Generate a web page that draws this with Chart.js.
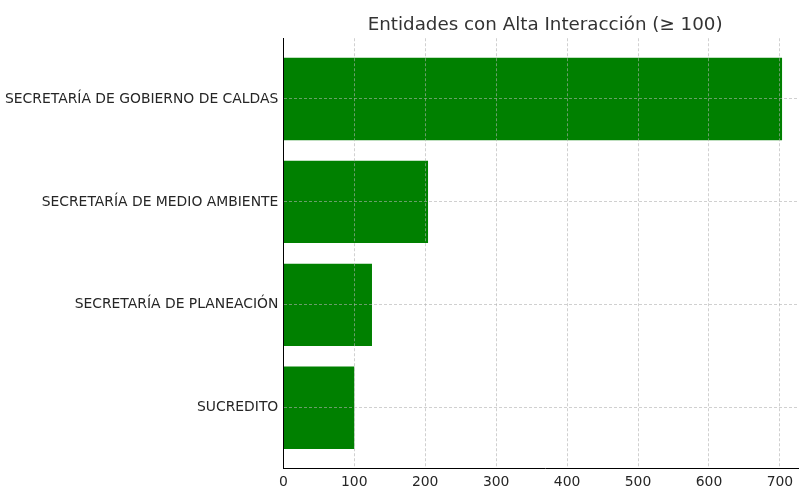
<!DOCTYPE html>
<html><head><meta charset="utf-8">
<script src="https://cdn.jsdelivr.net/npm/chart.js@4/dist/chart.umd.min.js"></script>
<style>html,body{margin:0;padding:0;background:#fff;overflow:hidden}#wrap{width:807px;height:486px;position:relative}</style>
</head><body><div id="wrap"><canvas id="c"></canvas></div>
<script>
const titleText = 'Entidades con Alta Interacción (≥ 100)';
const categories = ['SECRETARÍA DE GOBIERNO DE CALDAS', 'SECRETARÍA DE MEDIO AMBIENTE', 'SECRETARÍA DE PLANEACIÓN', 'SUCREDITO'];
const values = [703, 204, 125, 100];
const xTickStep = 100;

const FONT = 'DejaVu Sans';
const gridGrey = 'rgba(176,176,176,0.75)';
const textCol = '#262626';

const points = categories.map((c, i) => ({ x: values[i], y: i }));

new Chart(document.getElementById('c'), {
  type: 'bar',
  data: {
    datasets: [{
      data: points,
      backgroundColor: '#008000',
      borderWidth: 0,
      categoryPercentage: 1,
      barPercentage: 0.8
    }]
  },
  options: {
    indexAxis: 'y',
    responsive: true,
    maintainAspectRatio: false,
    animation: false,
    devicePixelRatio: 1,
    layout: { padding: 0 },
    plugins: {
      legend: { display: false },
      tooltip: { enabled: false },
      title: {
        display: true,
        text: titleText,
        fullSize: false,
        color: '#333333',
        font: { family: FONT, size: 18.3, weight: 'normal' },
        padding: { top: 14.5, bottom: 1.8 }
      }
    },
    scales: {
      x: {
        type: 'linear',
        position: 'bottom',
        offset: false,
        min: 0,
        max: 703 * 1.05,
        afterFit: s => { s.height = 17.5; },
        ticks: { stepSize: xTickStep, includeBounds: false, color: textCol, padding: 6, font: { family: FONT, size: 13.9 } },
        grid: {
          z: 1,
          offset: false,
          color: ctx => (ctx.tick && ctx.tick.value === 0) ? 'rgba(0,0,0,0)' : gridGrey,
          lineWidth: 0.8,
          drawTicks: false
        },
        border: { display: true, color: '#000', width: 1, z: 2, dash: [3, 2] }
      },
      y: {
        type: 'linear',
        position: 'left',
        offset: false,
        reverse: true,
        min: -0.59,
        max: 3.59,
        afterFit: s => { s.width = 283.3; },
        ticks: {
          stepSize: 1,
          includeBounds: false,
          autoSkip: false,
          color: textCol,
          padding: 5,
          font: { family: FONT, size: 13.9 },
          callback: v => (Number.isInteger(v) && categories[v] !== undefined) ? categories[v] : ''
        },
        grid: {
          z: 1,
          offset: false,
          color: gridGrey,
          lineWidth: 0.8,
          drawTicks: false
        },
        border: { display: true, color: '#000', width: 1, z: 2, dash: [3, 2] }
      }
    }
  }
});
</script>
</body></html>
